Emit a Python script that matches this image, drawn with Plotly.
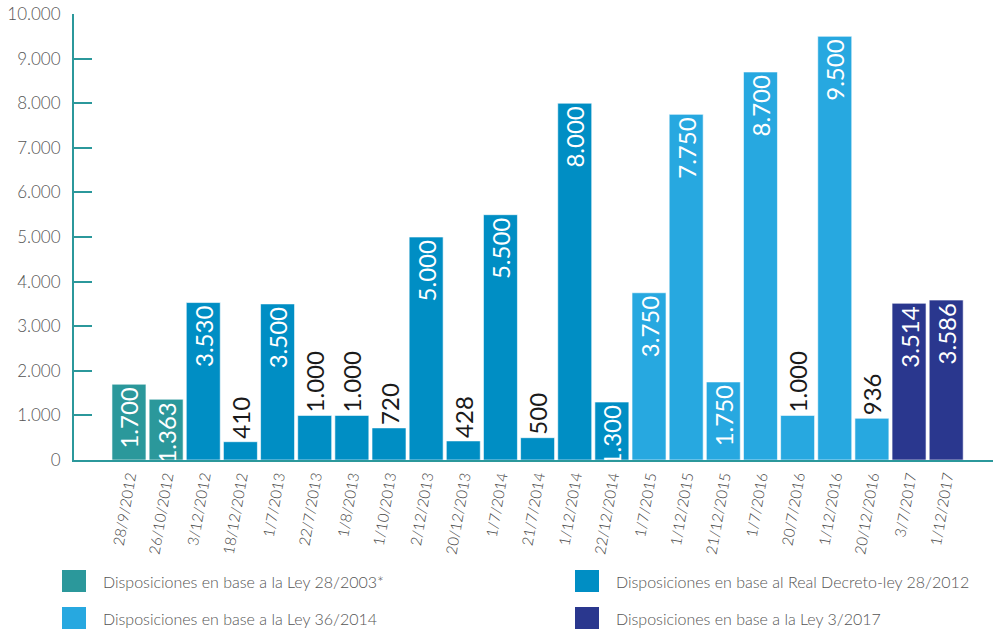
import plotly.graph_objects as go

# Fechas de cada disposición y volumen asignado
fechas = [
    "28/9/2012", "26/10/2012", "3/12/2012", "18/12/2012", "1/7/2013",
    "22/7/2013", "1/8/2013", "1/10/2013", "2/12/2013", "20/12/2013",
    "1/7/2014", "21/7/2014", "1/12/2014", "22/12/2014", "1/7/2015",
    "1/12/2015", "21/12/2015", "1/7/2016", "20/7/2016", "1/12/2016",
    "20/12/2016", "3/7/2017", "1/12/2017",
]
importes = [
    1700, 1363, 3530, 410, 3500,
    1000, 1000, 720, 5000, 428,
    5500, 500, 8000, 1300, 3750,
    7750, 1750, 8700, 1000, 9500,
    936, 3514, 3586,
]
# Norma en que se basa cada disposición (índice en normas)
norma_idx = [
    0, 0, 1, 1, 1,
    1, 1, 1, 1, 1,
    1, 1, 1, 1, 2,
    2, 2, 2, 2, 2,
    2, 3, 3,
]
normas = [
    "Disposiciones en base a la Ley 28/2003*",
    "Disposiciones en base al Real Decreto-ley 28/2012",
    "Disposiciones en base a la Ley 36/2014",
    "Disposiciones en base a la Ley 3/2017",
]
colores = ["#2b989b", "#008ec4", "#27a8e0", "#2a378e"]
y_ticks = [0, 1000, 2000, 3000, 4000, 5000, 6000, 7000, 8000, 9000, 10000]

FONT = "Lato, 'Open Sans', sans-serif"
TEAL = "#2b989b"
W, H = 993, 629
L, R, T, B = 74, 993, 14, 460


def miles(v):
    return f"{v:,}".replace(",", ".")


textos = [miles(v) for v in importes]
dentro = [v >= 1300 for v in importes]

fig = go.Figure()
fig.add_trace(go.Bar(
    x=list(range(len(fechas))),
    y=importes,
    marker=dict(color=[colores[i] for i in norma_idx],
                line=dict(color="rgba(255,255,255,0.6)", width=1)),
    text=textos,
    textposition=["inside" if d else "outside" for d in dentro],
    insidetextanchor="end",
    textangle=-90,
    constraintext="none",
    textfont=dict(family=FONT, size=24,
                  color=["white" if d else "#1a1a1a" for d in dentro]),
    cliponaxis=False,
    showlegend=False,
    hoverinfo="skip",
))

# Leyenda en dos columnas
def px_x(p):
    return (p - L) / (R - L)


def px_y(p):
    return (B - p) / (B - T)


legend_pos = [(62, 570), (575, 570), (62, 607), (575, 607)]
shapes = []
annotations = []
for (lx, ly), nombre, col in zip(legend_pos, normas, colores):
    shapes.append(dict(type="rect", xref="paper", yref="paper",
                       x0=px_x(lx), x1=px_x(lx + 24),
                       y0=px_y(ly), y1=px_y(ly + 22),
                       fillcolor=col, line=dict(width=0)))
    annotations.append(dict(xref="paper", yref="paper",
                            x=px_x(lx + 39), y=px_y(ly + 11),
                            xanchor="left", yanchor="middle",
                            text=nombre, showarrow=False,
                            font=dict(family=FONT, size=16, color="#555555",
                                      weight=300)))

fig.update_layout(
    width=W, height=H,
    margin=dict(l=L, r=W - R, t=T, b=H - B),
    paper_bgcolor="white", plot_bgcolor="white",
    bargap=0.085,
    shapes=shapes,
    annotations=annotations,
    xaxis=dict(
        range=[-1.48, 23.26],
        tickmode="array",
        tickvals=list(range(len(fechas))),
        ticktext=fechas,
        tickangle=-80,
        ticks="",
        showgrid=False,
        zeroline=False,
        showline=True, linecolor=TEAL, linewidth=2,
        tickfont=dict(family=FONT, size=15, color="#444444", weight=300),
    ),
    yaxis=dict(
        range=[0, 10000],
        tickmode="array",
        tickvals=y_ticks,
        ticktext=[miles(v) for v in y_ticks],
        ticks="inside", ticklen=18, tickwidth=2, tickcolor=TEAL,
        ticklabelstandoff=8,
        showgrid=False,
        zeroline=False,
        showline=True, linecolor=TEAL, linewidth=2,
        tickfont=dict(family=FONT, size=17, color="#555555", weight=300),
    ),
)

fig.write_html("out.html")
